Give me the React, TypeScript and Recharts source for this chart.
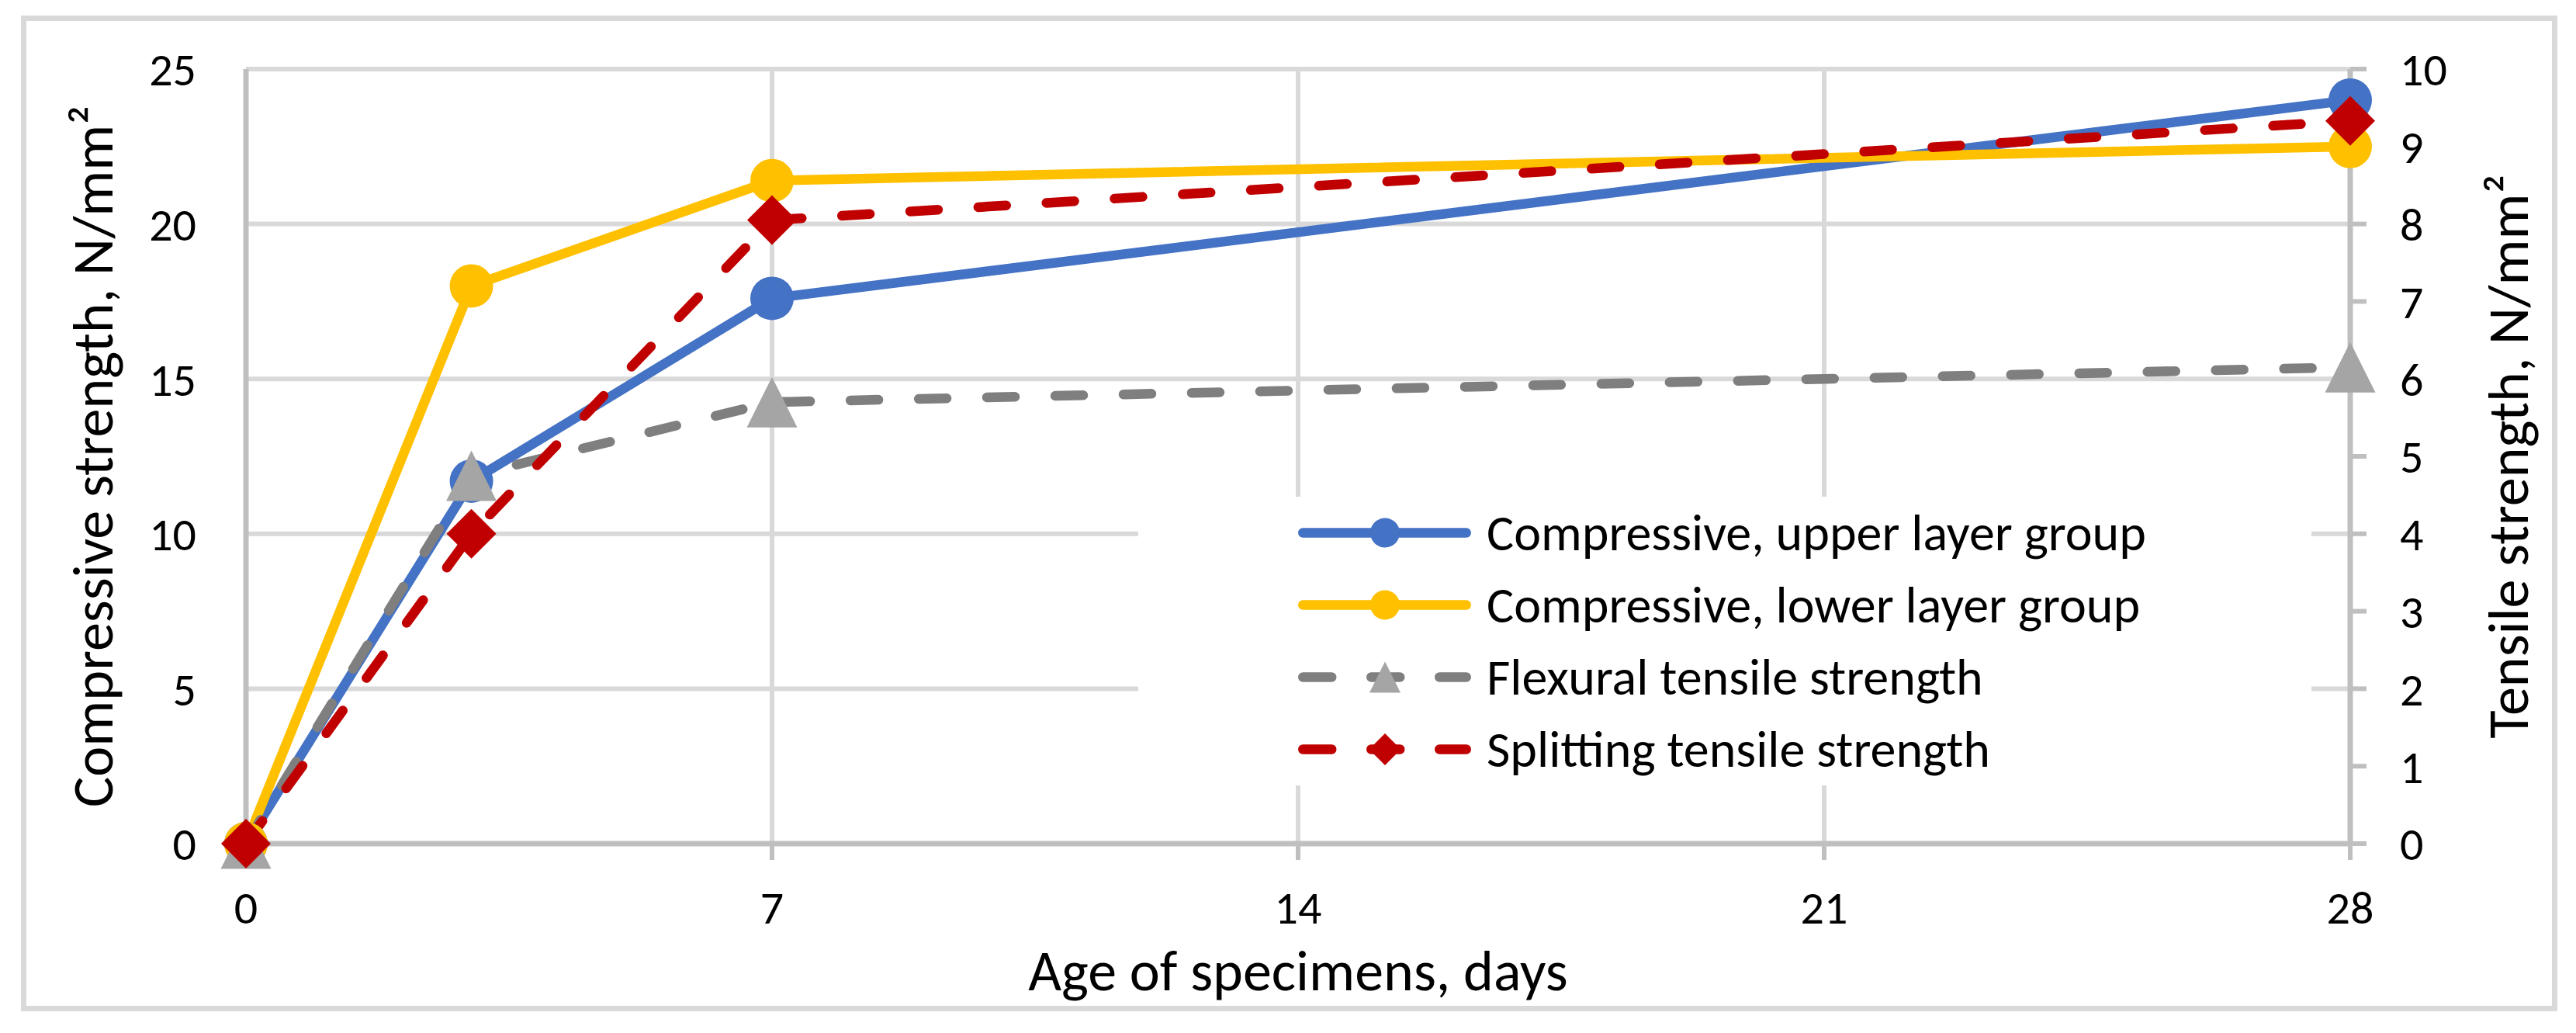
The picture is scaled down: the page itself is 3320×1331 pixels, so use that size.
import React from 'react';
import { LineChart, Line, XAxis, YAxis, CartesianGrid, Legend, Label } from 'recharts';

const days = [0, 3, 7, 28];
const compressiveUpper = [0, 11.7, 17.6, 24.0];
const compressiveLower = [0, 18.0, 21.4, 22.5];
const flexuralTensile = [0, 4.75, 5.7, 6.15];
const splittingTensile = [0, 4.0, 8.05, 9.33];

const xTicks = [0, 7, 14, 21, 28];
const leftTicks = [0, 5, 10, 15, 20, 25];
const rightTicks = [0, 1, 2, 3, 4, 5, 6, 7, 8, 9, 10];

const seriesKeys = ['upper', 'lower', 'flexural', 'splitting'];
const seriesNames = [
  'Compressive, upper layer group',
  'Compressive, lower layer group',
  'Flexural tensile strength',
  'Splitting tensile strength',
];
const seriesAxis = ['left', 'left', 'right', 'right'];
const lineColors = ['#4472C4', '#FFC000', '#7F7F7F', '#C00000'];
const markerColors = ['#4472C4', '#FFC000', '#A5A5A5', '#C00000'];
const markerShapes = ['circle', 'circle', 'triangle', 'diamond'];
const dashed = [false, false, true, true];

const data = days.map((d, i) => ({
  day: d,
  upper: compressiveUpper[i],
  lower: compressiveLower[i],
  flexural: flexuralTensile[i],
  splitting: splittingTensile[i],
}));

const FONT = "Carlito, Calibri, Lato, sans-serif";
const GRID = '#D9D9D9';
const AXIS = '#BFBFBF';
const LINE_W = 12.5;
const TICK_FS = 60;
const TITLE_FS = 74;

const plotSize: Record<string, number> = { circle: 56, triangle: 65, diamond: 64 };
const legendSize: Record<string, number> = { circle: 38, triangle: 40, diamond: 41 };

function Marker({ shape, cx, cy, size, color }: { shape: string; cx: number; cy: number; size: number; color: string }) {
  const h = size / 2;
  if (shape === 'circle') return <circle cx={cx} cy={cy} r={h} fill={color} />;
  if (shape === 'triangle')
    return <polygon points={`${cx},${cy - h} ${cx + h},${cy + h} ${cx - h},${cy + h}`} fill={color} />;
  return <polygon points={`${cx},${cy - h} ${cx + h},${cy} ${cx},${cy + h} ${cx - h},${cy}`} fill={color} />;
}

const makeDot = (i: number) => (props: any) => {
  const { cx, cy, index } = props;
  if (cx == null || cy == null) return <g key={`e-${index}`} />;
  return (
    <Marker
      key={`m-${i}-${index}`}
      shape={markerShapes[i]}
      cx={cx}
      cy={cy}
      size={plotSize[markerShapes[i]]}
      color={markerColors[i]}
    />
  );
};

function LegendBox() {
  return (
    <div style={{ background: '#fff', width: 1512, height: 372 }}>
      {seriesKeys.map((k, i) => (
        <div key={k} style={{ display: 'flex', alignItems: 'center', height: 93 }}>
          <svg width={449} height={93} style={{ flex: 'none' }}>
            <line
              x1={212.25}
              x2={422.75}
              y1={46.5}
              y2={46.5}
              stroke={lineColors[i]}
              strokeWidth={LINE_W}
              strokeLinecap="round"
              strokeDasharray={dashed[i] ? '37 51' : undefined}
            />
            <Marker
              shape={markerShapes[i]}
              cx={318}
              cy={46.5}
              size={legendSize[markerShapes[i]]}
              color={markerColors[i]}
            />
          </svg>
          <span style={{ fontFamily: FONT, fontSize: 66, lineHeight: 1, color: '#000', whiteSpace: 'nowrap' }}>
            {seriesNames[i]}
          </span>
        </div>
      ))}
    </div>
  );
}

export default function App() {
  return (
    <div style={{ position: 'absolute', left: 0, top: 0, width: 3320, height: 1331, background: '#fff' }}>
      <LineChart width={3320} height={1331} data={data} margin={{ top: 89, right: 0, bottom: 0, left: 0 }}>
        <CartesianGrid yAxisId="left" stroke={GRID} strokeWidth={6} />
        <XAxis
          dataKey="day"
          type="number"
          domain={[0, 28]}
          ticks={xTicks}
          height={244}
          axisLine={{ stroke: AXIS, strokeWidth: 7 }}
          tickLine={{ stroke: AXIS, strokeWidth: 6 }}
          tickSize={21}
          tickMargin={39}
          tick={{ fontFamily: FONT, fontSize: TICK_FS, fill: '#000' }}
          interval={0}
        >
          <Label
            value="Age of specimens, days"
            position="insideBottom"
            offset={55}
            style={{ fontFamily: FONT, fontSize: TITLE_FS, fill: '#000' }}
          />
        </XAxis>
        <YAxis
          yAxisId="left"
          orientation="left"
          domain={[0, 25]}
          ticks={leftTicks}
          width={317}
          axisLine={{ stroke: AXIS, strokeWidth: 7 }}
          tickLine={false}
          tickSize={0}
          tickMargin={64}
          tick={{ fontFamily: FONT, fontSize: TICK_FS, fill: '#000' }}
          interval={0}
        >
          <Label
            value="Compressive strength, N/mm²"
            angle={-90}
            position="insideLeft"
            offset={119}
            style={{ fontFamily: FONT, fontSize: TITLE_FS, fill: '#000', textAnchor: 'middle' }}
          />
        </YAxis>
        <YAxis
          yAxisId="right"
          orientation="right"
          domain={[0, 10]}
          ticks={rightTicks}
          width={291}
          axisLine={{ stroke: AXIS, strokeWidth: 7 }}
          tickLine={{ stroke: AXIS, strokeWidth: 6 }}
          tickSize={21}
          tickMargin={43}
          tick={{ fontFamily: FONT, fontSize: TICK_FS, fill: '#000' }}
          interval={0}
        >
          <Label
            value="Tensile strength, N/mm²"
            angle={-90}
            position="insideRight"
            offset={88}
            style={{ fontFamily: FONT, fontSize: TITLE_FS, fill: '#000', textAnchor: 'middle' }}
          />
        </YAxis>
        <Legend
          layout="vertical"
          align="center"
          verticalAlign="middle"
          wrapperStyle={{ left: 1467, top: 640, width: 1512, height: 372 }}
          content={() => <LegendBox />}
        />
        {seriesKeys.map((k, i) => (
          <Line
            key={k}
            yAxisId={seriesAxis[i]}
            dataKey={k}
            name={seriesNames[i]}
            type="linear"
            stroke={lineColors[i]}
            strokeWidth={LINE_W}
            strokeLinecap="round"
            strokeLinejoin="round"
            strokeDasharray={dashed[i] ? '36 52' : undefined}
            dot={makeDot(i)}
            activeDot={false}
            isAnimationActive={false}
          />
        ))}
      </LineChart>
      <div
        style={{
          position: 'absolute',
          left: 27,
          top: 20,
          width: 3269,
          height: 1283,
          boxSizing: 'border-box',
          border: `7px solid ${GRID}`,
          pointerEvents: 'none',
        }}
      />
    </div>
  );
}
